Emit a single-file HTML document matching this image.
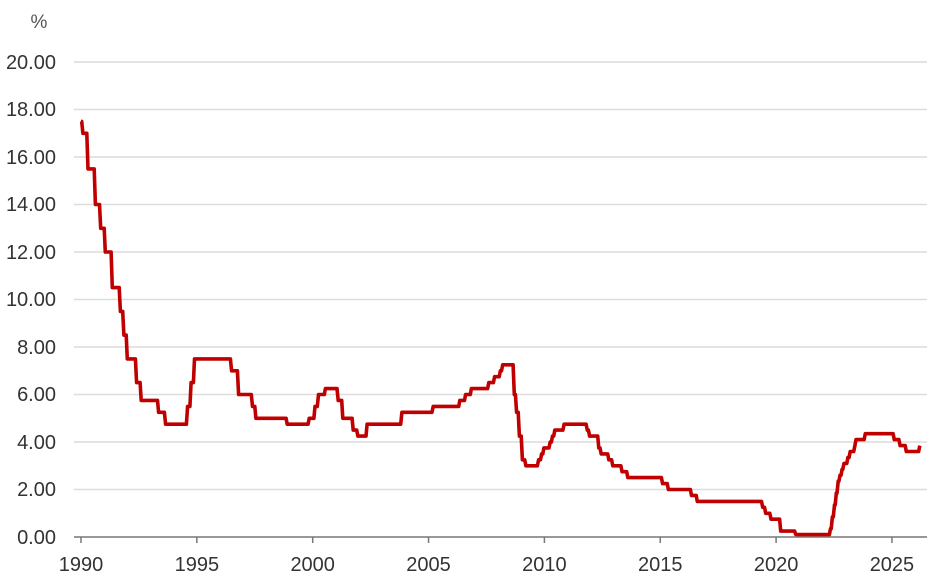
<!DOCTYPE html>
<html><head><meta charset="utf-8"><style>
html,body{margin:0;padding:0;background:#fff;}
svg{display:block;font-family:"Liberation Sans",sans-serif;}
</style></head><body>
<svg id="c" width="938" height="588" viewBox="0 0 938 588">
<g stroke="#dcdcdc" stroke-width="1.5">
<line x1="74" x2="927" y1="62" y2="62"/><line x1="74" x2="927" y1="109.5" y2="109.5"/>
<line x1="74" x2="927" y1="157" y2="157"/><line x1="74" x2="927" y1="204.5" y2="204.5"/>
<line x1="74" x2="927" y1="252" y2="252"/><line x1="74" x2="927" y1="299.5" y2="299.5"/>
<line x1="74" x2="927" y1="347" y2="347"/><line x1="74" x2="927" y1="394.5" y2="394.5"/>
<line x1="74" x2="927" y1="442" y2="442"/><line x1="74" x2="927" y1="489.5" y2="489.5"/>
</g>
<line x1="74" x2="927" y1="537" y2="537" stroke="#777" stroke-width="1.5"/>
<g stroke="#777" stroke-width="1.5" id="ticks"></g>
<g fill="#333" font-size="20" text-anchor="end">
<text x="56" y="69">20.00</text><text x="56" y="116">18.00</text><text x="56" y="164">16.00</text>
<text x="56" y="211">14.00</text><text x="56" y="259">12.00</text><text x="56" y="306">10.00</text>
<text x="56" y="354">8.00</text><text x="56" y="401">6.00</text><text x="56" y="449">4.00</text>
<text x="56" y="496">2.00</text><text x="56" y="544">0.00</text>
</g>
<text x="39" y="28" fill="#555" font-size="19" text-anchor="middle">%</text>
<g fill="#333" font-size="20" text-anchor="middle" id="xl"></g>
<path id="p" fill="none" stroke="#c00000" stroke-width="3.6" stroke-linejoin="round"/>
</svg>
<script>
var X=function(t){return 81+(t-1990)*23.17;},Y=function(v){return 537-v*23.75;};
var t='',l='';
for(var y=1990;y<=2025;y+=5){t+='<line x1="'+X(y)+'" x2="'+X(y)+'" y1="537" y2="543"/>';l+='<text x="'+X(y)+'" y="571">'+y+'</text>';}
document.getElementById('ticks').innerHTML=t;document.getElementById('xl').innerHTML=l;
var d=[[1990,17.5],[1990.08,17],[1990.3,15.5],[1990.62,14],[1990.85,13],[1991.05,12],[1991.35,10.5],[1991.7,9.5],[1991.85,8.5],[1992,7.5],[1992.4,6.5],[1992.6,5.75],[1993.35,5.25],[1993.65,4.75],[1994.6,5.5],[1994.75,6.5],[1994.9,7.5],[1996.5,7],[1996.8,6],[1997.4,5.5],[1997.55,5],[1998.9,4.75],[1999.85,5],[2000.1,5.5],[2000.25,6],[2000.55,6.25],[2001.1,5.75],[2001.3,5],[2001.75,4.5],[2001.95,4.25],[2002.35,4.75],[2003.85,5.25],[2005.2,5.5],[2006.35,5.75],[2006.6,6],[2006.85,6.25],[2007.6,6.5],[2007.85,6.75],[2008.1,7],[2008.2,7.25],[2008.7,6],[2008.8,5.25],[2008.92,4.25],[2009.05,3.25],[2009.2,3],[2009.75,3.25],[2009.88,3.5],[2009.98,3.75],[2010.25,4],[2010.35,4.25],[2010.45,4.5],[2010.85,4.75],[2011.85,4.5],[2011.95,4.25],[2012.35,3.75],[2012.45,3.5],[2012.78,3.25],[2012.95,3],[2013.35,2.75],[2013.6,2.5],[2015.1,2.25],[2015.35,2],[2016.35,1.75],[2016.6,1.5],[2019.42,1.25],[2019.55,1],[2019.78,0.75],[2020.2,0.25],[2020.85,0.1],[2022.35,0.35],[2022.43,0.85],[2022.52,1.35],[2022.6,1.85],[2022.68,2.35],[2022.76,2.6],[2022.85,2.85],[2022.93,3.1],[2023.1,3.35],[2023.2,3.6],[2023.4,3.85],[2023.45,4.1],[2023.85,4.35],[2025.1,4.1],[2025.35,3.85],[2025.62,3.6],[2026.0,3.6],[2026.2,3.85]];
var s='M'+X(d[0][0]).toFixed(1)+','+Y(d[0][1]).toFixed(1);
for(var i=1;i<d.length;i++){var tt=d[i][0];s+='L'+X(tt-0.05).toFixed(1)+','+Y(d[i-1][1]).toFixed(1)+'L'+X(tt).toFixed(1)+','+Y(d[i][1]).toFixed(1);}
document.getElementById('p').setAttribute('d',s);
</script>
</body></html>
